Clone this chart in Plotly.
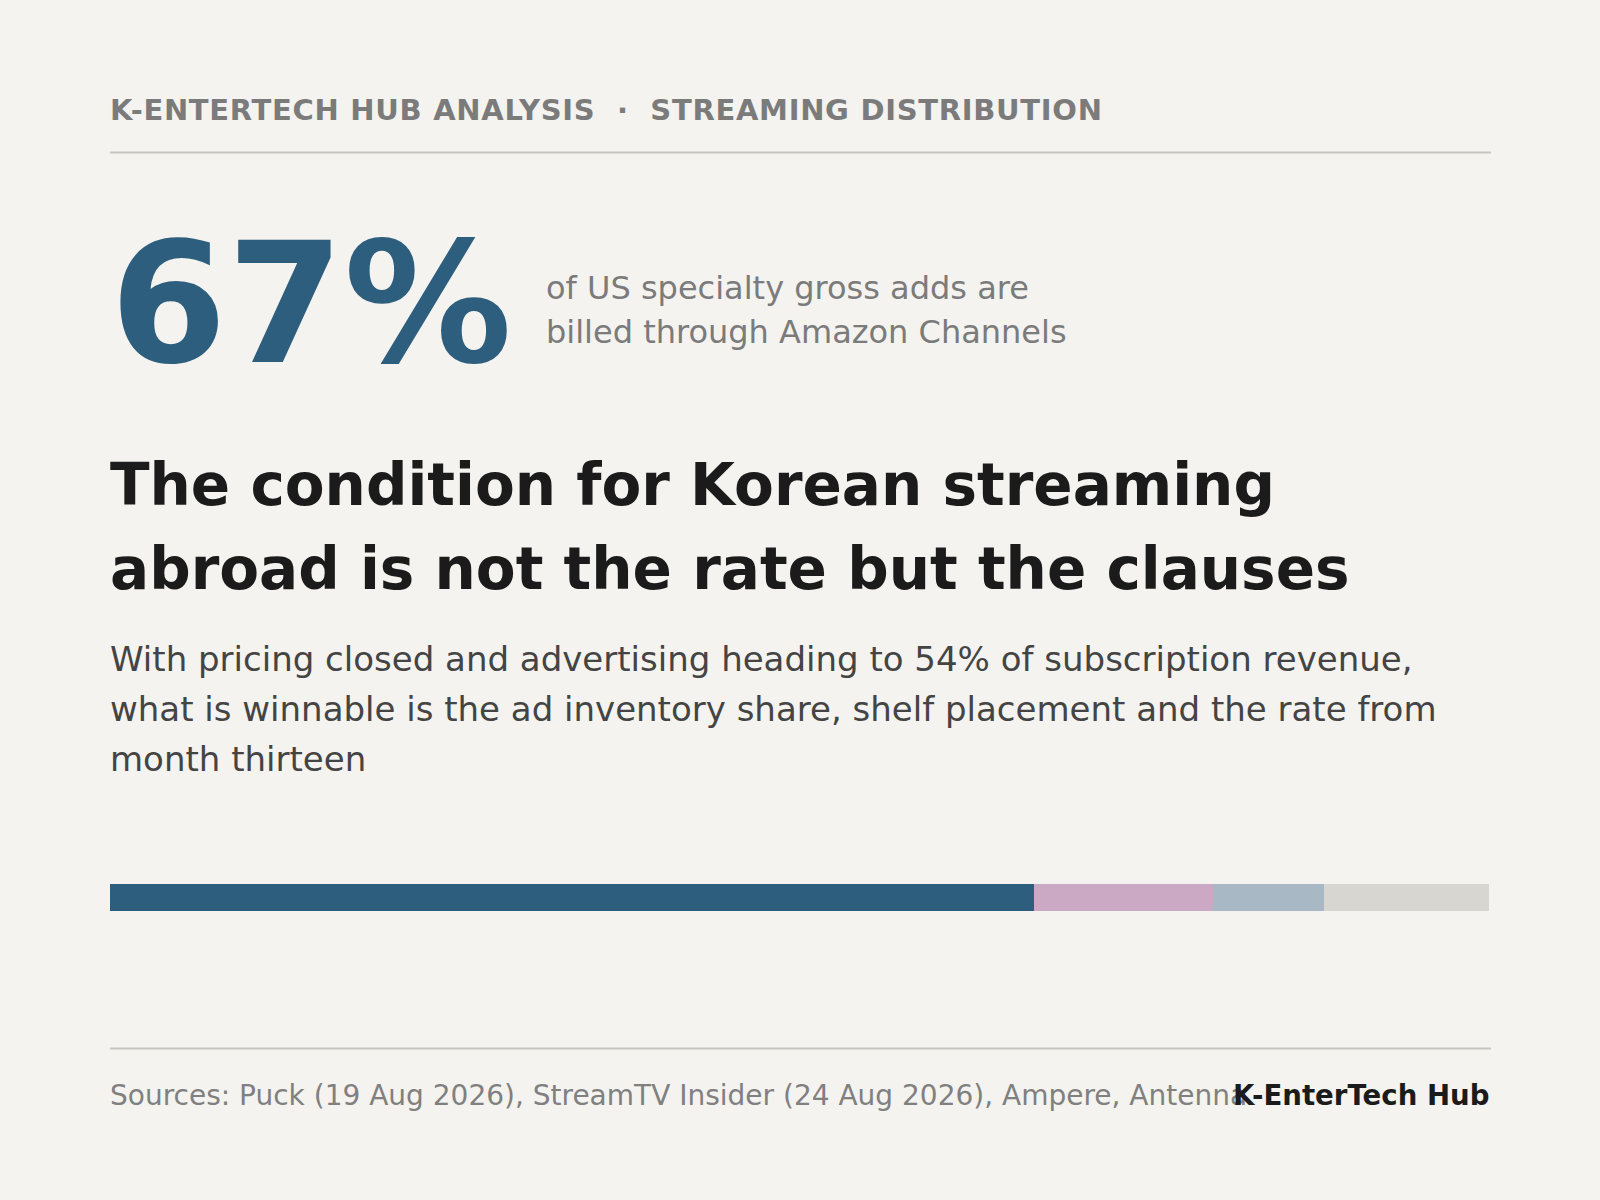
import plotly.graph_objects as go

W, H = 1600, 1200

# ---- data ----
segment_names = ["Amazon Channels", "Other storefront A", "Other storefront B", "Remaining"]
segment_shares = [67, 13, 8, 12]
segment_colors = ["#2e5e7e", "#cba9c5", "#a8b8c4", "#d7d6d1"]

headline_value = "67%"
kicker = "K-ENTERTECH HUB ANALYSIS\u00a0\u00a0·\u00a0\u00a0STREAMING DISTRIBUTION"
value_caption = ["of US specialty gross adds are", "billed through Amazon Channels"]
title_lines = ["The condition for Korean streaming", "abroad is not the rate but the clauses"]
body_lines = [
    "With pricing closed and advertising heading to 54% of subscription revenue,",
    "what is winnable is the ad inventory share, shelf placement and the rate from",
    "month thirteen",
]
sources = "Sources: Puck (19 Aug 2026), StreamTV Insider (24 Aug 2026), Ampere, Antenna"
brand = "K-EnterTech Hub"

FONT = "DejaVu Sans"
BG = "#f4f3ef"
LEFT, RIGHT = 110, 1489

fig = go.Figure()
for name, share, color in zip(segment_names, segment_shares, segment_colors):
    fig.add_trace(go.Bar(
        x=[share], y=["share"], orientation="h", name=name,
        marker=dict(color=color, line=dict(width=0)),
        width=1, hoverinfo="skip", showlegend=False,
    ))

def py(px_from_top):
    return 1 - px_from_top / H

def px(x):
    return x / W

annotations = []

def add_text(text, x, baseline, size, color, bold=False, anchor="left"):
    annotations.append(dict(
        text=text, x=px(x), y=py(baseline - 0.346 * size),
        xref="paper", yref="paper", xanchor=anchor, yanchor="middle",
        showarrow=False, borderpad=0, borderwidth=0,
        font=dict(family=FONT, size=size, color=color, weight="bold" if bold else "normal"),
    ))

add_text('<span style="letter-spacing:0.7px">' + kicker + '</span>', LEFT, 120.5, 29, "#7b7b7b", bold=True)
add_text(headline_value, LEFT, 362, 168, "#2e5e7e", bold=True)
for i, line in enumerate(value_caption):
    add_text(line, 546, 299 + i * 44, 32, "#7b7b7b")
for i, line in enumerate(title_lines):
    add_text(line, LEFT, 505 + i * 84, 58, "#1b1b1b", bold=True)
for i, line in enumerate(body_lines):
    add_text(line, LEFT, 670.5 + i * 50, 34, "#444444")
add_text(sources, LEFT, 1105, 28, "#808080")
add_text(brand, RIGHT, 1105, 27.6, "#1b1b1b", bold=True, anchor="right")

shapes = [
    dict(type="line", xref="paper", yref="paper", x0=px(LEFT), x1=px(1491),
         y0=py(152.5), y1=py(152.5), line=dict(color="#c7c6c0", width=2)),
    dict(type="line", xref="paper", yref="paper", x0=px(LEFT), x1=px(1491),
         y0=py(1048.5), y1=py(1048.5), line=dict(color="#c7c6c0", width=2)),
]

fig.update_layout(
    width=W, height=H,
    margin=dict(l=0, r=0, t=0, b=0),
    paper_bgcolor=BG, plot_bgcolor=BG,
    barmode="stack", bargap=0,
    xaxis=dict(domain=[px(LEFT), px(RIGHT)], range=[0, sum(segment_shares)],
               visible=False, fixedrange=True),
    yaxis=dict(domain=[py(911), py(884)], range=[-0.5, 0.5],
               visible=False, fixedrange=True),
    annotations=annotations,
    shapes=shapes,
    font=dict(family=FONT),
)

fig.write_html(
    "out.html",
    config={"displayModeBar": False},
    post_script="document.body.style.margin='0';document.body.style.background='#f4f3ef';",
)
